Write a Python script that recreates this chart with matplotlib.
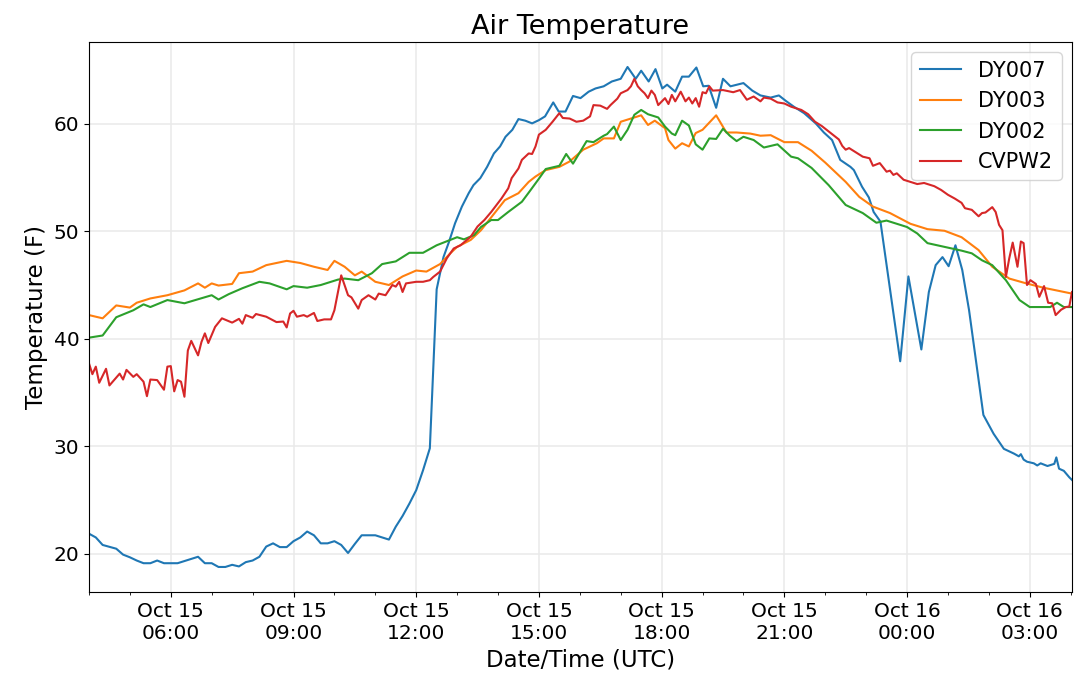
import matplotlib
matplotlib.use("Agg")
import matplotlib.pyplot as plt
import matplotlib.dates as mdates
from datetime import datetime, timedelta

# station readings, clock time UTC starting Oct 15 04:00 (rolls over midnight)
dy007_times = ["04:00", "04:10", "04:20", "04:40", "04:50", "05:00", "05:10", "05:20", "05:30", "05:40",
               "05:50", "06:10", "06:25", "06:40", "06:50", "07:00", "07:10", "07:20", "07:30", "07:40",
               "07:50", "08:00", "08:10", "08:20", "08:30", "08:40", "08:50", "09:00", "09:10", "09:20",
               "09:30", "09:40", "09:50", "10:00", "10:10", "10:20", "10:30", "10:40", "11:00", "11:10",
               "11:20", "11:30", "11:40", "11:50", "12:00", "12:10", "12:20", "12:30", "12:35", "12:40",
               "12:48", "12:57", "13:07", "13:17", "13:24", "13:34", "13:44", "13:54", "14:03", "14:11",
               "14:21", "14:30", "14:40", "14:50", "15:00", "15:09", "15:21", "15:29", "15:39", "15:50",
               "16:01", "16:13", "16:23", "16:35", "16:47", "17:00", "17:10", "17:22", "17:30", "17:41",
               "17:51", "18:01", "18:08", "18:20", "18:30", "18:40", "18:51", "19:01", "19:09", "19:20",
               "19:30", "19:41", "20:00", "20:13", "20:25", "20:40", "20:52", "21:02", "21:14", "21:29",
               "21:46", "21:58", "22:10", "22:22", "22:37", "22:42", "22:54", "23:04", "23:11", "23:21",
               "23:50", "00:02", "00:21", "00:32", "00:42", "00:52", "01:01", "01:11", "01:21", "01:31",
               "01:41", "01:52", "02:07", "02:22", "02:37", "02:44", "02:47", "02:51", "02:56", "03:06",
               "03:11", "03:16", "03:26", "03:36", "03:39", "03:43", "03:50", "03:58", "04:02"]
dy007_temp = [21.85, 21.5, 20.8, 20.45, 19.9, 19.65, 19.35, 19.1, 19.1, 19.35,
              19.1, 19.1, 19.4, 19.7, 19.1, 19.1, 18.75, 18.75, 18.95, 18.8,
              19.2, 19.35, 19.7, 20.65, 20.95, 20.6, 20.6, 21.15, 21.5, 22.05,
              21.7, 20.95, 20.95, 21.15, 20.8, 20.05, 20.9, 21.7, 21.7, 21.5,
              21.3, 22.5, 23.5, 24.65, 25.9, 27.75, 29.8, 44.6, 46.1, 47.6,
              49.0, 50.75, 52.3, 53.55, 54.3, 54.95, 56.0, 57.25, 57.9, 58.8,
              59.45, 60.45, 60.3, 60.05, 60.35, 60.7, 62.0, 61.15, 61.15, 62.6,
              62.4, 63.0, 63.3, 63.5, 63.95, 64.2, 65.3, 64.2, 64.95, 63.95,
              65.1, 63.3, 63.65, 63.0, 64.4, 64.4, 65.25, 63.5, 63.55, 61.5,
              64.2, 63.5, 63.8, 63.1, 62.65, 62.45, 62.65, 62.15, 61.6, 61.0,
              60.05, 59.2, 58.5, 56.65, 56.0, 55.7, 54.15, 53.15, 51.8, 50.9,
              37.9, 45.8, 39.0, 44.35, 46.85, 47.6, 46.75, 48.7, 46.4, 42.65,
              38.0, 32.9, 31.15, 29.75, 29.3, 29.05, 29.25, 28.75, 28.55, 28.4,
              28.2, 28.4, 28.15, 28.35, 28.95, 27.9, 27.7, 27.1, 26.85]

dy003_times = ["04:00", "04:20", "04:40", "05:00", "05:10", "05:30", "05:55", "06:20", "06:40", "06:50",
               "07:00", "07:10", "07:30", "07:40", "08:00", "08:20", "08:50", "09:10", "09:30", "09:50",
               "10:00", "10:15", "10:30", "10:40", "11:00", "11:20", "11:40", "12:00", "12:15", "12:35",
               "12:50", "13:00", "13:20", "13:35", "13:55", "14:10", "14:30", "14:45", "14:55", "15:10",
               "15:30", "15:45", "16:05", "16:25", "16:35", "16:50", "17:00", "17:20", "17:30", "17:40",
               "17:50", "18:05", "18:10", "18:20", "18:30", "18:40", "18:50", "19:00", "19:20", "19:35",
               "19:50", "20:10", "20:25", "20:40", "21:00", "21:20", "21:40", "22:00", "22:30", "22:50",
               "23:10", "23:35", "00:05", "00:30", "00:55", "01:20", "01:45", "02:05", "02:30", "02:55",
               "03:20", "04:02"]
dy003_temp = [42.2, 41.9, 43.1, 42.9, 43.35, 43.75, 44.05, 44.5, 45.15, 44.75,
              45.15, 44.95, 45.1, 46.1, 46.25, 46.85, 47.25, 47.05, 46.7, 46.4,
              47.25, 46.7, 45.9, 46.25, 45.3, 45.0, 45.8, 46.35, 46.25, 46.95,
              47.95, 48.55, 49.2, 50.1, 51.7, 52.9, 53.55, 54.6, 55.1, 55.7,
              56.0, 56.5, 57.6, 58.2, 58.65, 58.65, 60.2, 60.6, 60.8, 59.9,
              60.3, 59.6, 58.5, 57.7, 58.2, 57.9, 59.15, 59.45, 60.8, 59.2,
              59.2, 59.1, 58.9, 58.95, 58.3, 58.3, 57.5, 56.4, 54.6, 53.2,
              52.3, 51.7, 50.7, 50.2, 50.05, 49.45, 48.25, 46.7, 45.6, 45.15,
              44.75, 44.2]

dy002_times = ["04:00", "04:20", "04:40", "05:05", "05:20", "05:30", "05:55", "06:20", "07:00", "07:10",
               "07:25", "07:45", "08:10", "08:25", "08:50", "09:00", "09:20", "09:40", "10:05", "10:15",
               "10:35", "10:55", "11:10", "11:30", "11:50", "12:10", "12:30", "13:00", "13:10", "13:25",
               "13:35", "13:50", "14:00", "14:15", "14:35", "14:45", "15:00", "15:10", "15:30", "15:40",
               "15:50", "16:10", "16:20", "16:35", "16:40", "16:50", "17:00", "17:10", "17:20", "17:30",
               "17:40", "17:55", "18:05", "18:15", "18:20", "18:30", "18:40", "18:50", "19:00", "19:10",
               "19:20", "19:30", "19:40", "19:50", "20:00", "20:15", "20:30", "20:50", "21:10", "21:20",
               "21:40", "22:05", "22:30", "22:55", "23:15", "23:30", "00:00", "00:15", "00:30", "00:55",
               "01:20", "01:35", "01:50", "02:05", "02:25", "02:45", "03:00", "03:30", "03:40", "03:50",
               "04:02"]
dy002_temp = [40.1, 40.3, 42.0, 42.65, 43.2, 42.95, 43.6, 43.3, 44.05, 43.65,
              44.15, 44.7, 45.3, 45.15, 44.6, 44.9, 44.75, 45.0, 45.5, 45.6,
              45.45, 46.1, 46.95, 47.2, 48.0, 48.0, 48.7, 49.45, 49.25, 49.65,
              50.4, 51.05, 51.05, 51.8, 52.75, 53.6, 54.9, 55.8, 56.1, 57.2,
              56.3, 58.4, 58.3, 58.9, 59.05, 59.75, 58.5, 59.45, 60.85, 61.3,
              60.9, 60.6, 59.75, 59.1, 58.95, 60.3, 59.85, 58.1, 57.6, 58.65,
              58.6, 59.55, 58.9, 58.4, 58.8, 58.5, 57.8, 58.1, 56.95, 56.8,
              55.9, 54.3, 52.45, 51.7, 50.8, 51.0, 50.4, 49.8, 48.9, 48.55,
              48.2, 47.95, 47.3, 46.85, 45.45, 43.6, 42.95, 42.95, 43.35, 42.95,
              42.95]

cvpw2_times = ["04:00", "04:05", "04:10", "04:15", "04:25", "04:30", "04:45", "04:50", "04:55", "05:05",
               "05:10", "05:20", "05:25", "05:30", "05:40", "05:50", "05:55", "06:00", "06:05", "06:10",
               "06:15", "06:20", "06:25", "06:30", "06:40", "06:45", "06:50", "06:55", "07:05", "07:15",
               "07:30", "07:40", "07:45", "07:50", "08:00", "08:05", "08:20", "08:35", "08:45", "08:50",
               "08:55", "09:00", "09:05", "09:15", "09:20", "09:30", "09:35", "09:45", "09:55", "10:00",
               "10:10", "10:20", "10:25", "10:35", "10:40", "10:50", "11:00", "11:05", "11:15", "11:25",
               "11:30", "11:35", "11:40", "11:45", "12:00", "12:10", "12:20", "12:25", "12:35", "12:45",
               "12:55", "13:05", "13:20", "13:30", "13:40", "13:50", "14:05", "14:15", "14:20", "14:30",
               "14:35", "14:45", "14:50", "14:55", "15:00", "15:10", "15:20", "15:30", "15:35", "15:45",
               "15:55", "16:05", "16:15", "16:20", "16:30", "16:40", "16:45", "16:55", "17:00", "17:10",
               "17:15", "17:20", "17:25", "17:30", "17:35", "17:40", "17:45", "17:50", "17:55", "18:05",
               "18:10", "18:15", "18:20", "18:28", "18:35", "18:40", "18:45", "18:50", "18:55", "19:00",
               "19:05", "19:10", "19:15", "19:30", "19:45", "19:55", "20:05", "20:15", "20:25", "20:30",
               "20:40", "20:50", "21:00", "21:10", "21:25", "21:35", "21:45", "21:55", "22:10", "22:20",
               "22:25", "22:30", "22:35", "22:45", "22:55", "23:05", "23:10", "23:20", "23:30", "23:35",
               "23:40", "23:45", "23:55", "00:05", "00:15", "00:25", "00:40", "00:50", "01:00", "01:10",
               "01:20", "01:25", "01:35", "01:45", "01:50", "01:55", "02:05", "02:10", "02:15", "02:20",
               "02:25", "02:30", "02:35", "02:38", "02:42", "02:47", "02:51", "02:56", "03:01", "03:09",
               "03:14", "03:21", "03:27", "03:33", "03:38", "03:46", "03:53", "03:58", "04:02"]
cvpw2_temp = [37.7, 36.7, 37.4, 35.9, 37.2, 35.65, 36.75, 36.2, 37.1, 36.45,
              36.7, 36.0, 34.65, 36.2, 36.15, 35.25, 37.4, 37.45, 35.1, 36.15,
              36.0, 34.6, 38.9, 39.8, 38.45, 39.7, 40.5, 39.6, 41.1, 41.9,
              41.5, 41.85, 41.4, 42.2, 41.95, 42.3, 42.05, 41.55, 41.6, 41.05,
              42.35, 42.6, 42.05, 42.2, 42.05, 42.4, 41.65, 41.8, 41.8, 42.65,
              45.9, 44.05, 43.85, 42.8, 43.6, 44.05, 43.65, 44.2, 44.05, 45.0,
              44.85, 45.3, 44.35, 45.15, 45.3, 45.3, 45.45, 45.75, 46.25, 47.5,
              48.4, 48.7, 49.5, 50.45, 51.05, 51.8, 53.05, 54.0, 54.95, 55.85,
              56.65, 57.25, 57.2, 57.9, 59.0, 59.45, 60.2, 61.0, 60.55, 60.5,
              60.2, 60.3, 60.7, 61.75, 61.7, 61.4, 61.75, 62.35, 62.85, 63.15,
              63.5, 64.2, 63.5, 63.15, 62.85, 62.4, 63.1, 62.7, 61.75, 62.4,
              61.85, 62.7, 62.1, 63.0, 62.1, 62.45, 61.9, 62.4, 61.6, 62.95,
              62.85, 63.5, 63.1, 63.15, 62.95, 63.15, 62.25, 62.55, 62.1, 62.45,
              62.35, 62.0, 61.9, 61.6, 61.3, 60.9, 60.2, 59.8, 59.05, 58.55,
              57.95, 57.6, 57.75, 57.35, 56.95, 56.8, 56.1, 56.35, 55.55, 55.65,
              55.25, 55.4, 54.8, 54.6, 54.4, 54.5, 54.2, 53.85, 53.4, 53.05,
              52.65, 52.15, 52.0, 51.4, 51.7, 51.75, 52.25, 51.8, 50.6, 50.1,
              45.75, 47.5, 48.95, 48.0, 46.7, 49.05, 48.9, 45.0, 45.45, 45.1,
              43.9, 44.9, 43.35, 43.3, 42.2, 42.7, 42.95, 43.0, 44.35]

station_names = ["DY007", "DY003", "DY002", "CVPW2"]
station_colors = ["#1f77b4", "#ff7f0e", "#2ca02c", "#d62728"]


def to_dates(clock, start=datetime(2019, 10, 15)):
    out = []
    day = start
    prev = None
    for c in clock:
        hh, mm = map(int, c.split(":"))
        t = day.replace(hour=hh, minute=mm)
        if prev is not None and t < prev:
            day = day + timedelta(days=1)
            t = day.replace(hour=hh, minute=mm)
        out.append(t)
        prev = t
    return out


series = [(dy007_times, dy007_temp), (dy003_times, dy003_temp),
          (dy002_times, dy002_temp), (cvpw2_times, cvpw2_temp)]

fig = plt.figure(figsize=(10.8, 6.77), dpi=100)
ax = fig.add_subplot(111)
fig.subplots_adjust(left=0.0824, right=0.9926, bottom=0.1256, top=0.938)

all_t = []
for (tt, vv), name, col in zip(series, station_names, station_colors):
    dts = to_dates(tt)
    all_t += dts
    ax.plot(dts, vv, color=col, lw=1.5, label=name)

ax.set_xlim(min(all_t), max(all_t))
ax.xaxis.set_major_locator(mdates.HourLocator(byhour=range(0, 24, 3)))
ax.xaxis.set_minor_locator(mdates.HourLocator())
ax.xaxis.set_major_formatter(mdates.DateFormatter("%b %d\n%H:%M"))
ax.tick_params(axis="both", which="major", labelsize=14.5)
ax.grid(True, which="major", color="#e9e9e9", lw=1.1)
ax.set_axisbelow(True)

ax.set_title("Air Temperature", fontsize=19.5)
ax.set_xlabel("Date/Time (UTC)", fontsize=16.5)
ax.set_ylabel("Temperature (F)", fontsize=16.5)
ax.legend(loc="upper right", fontsize=15)

fig.savefig("out.png", dpi=100)
